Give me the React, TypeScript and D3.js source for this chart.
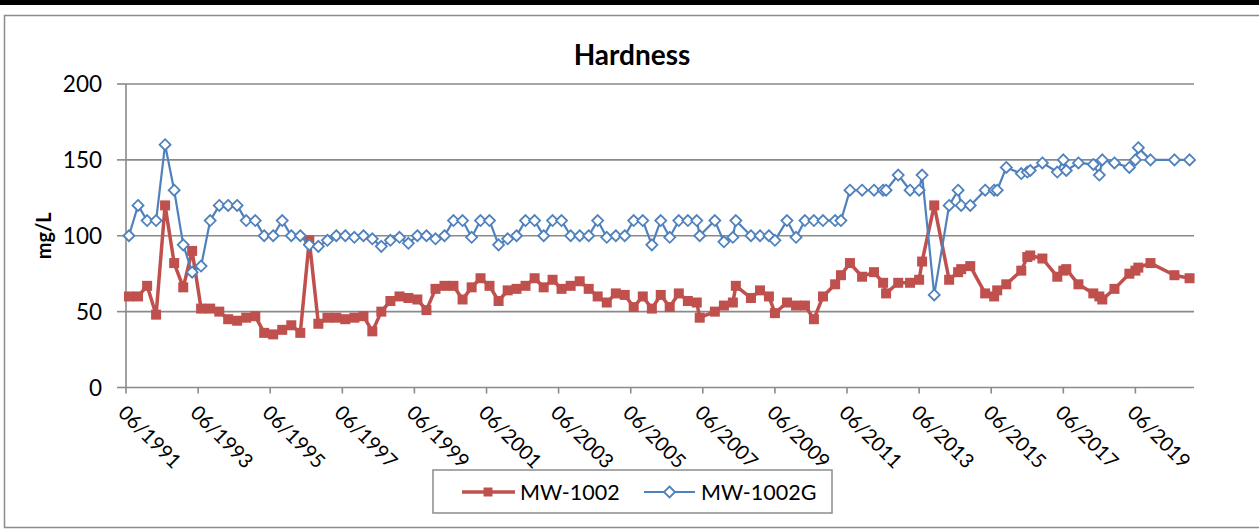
import React from "react";
import * as d3 from "d3";

const W = 1259;
const H = 529;

const title = "Hardness";
const yLabel = "mg/L";
const seriesNames = ["MW-1002", "MW-1002G"];
const yTicks = [0, 50, 100, 150, 200];
const xTickYears = [1991, 1993, 1995, 1997, 1999, 2001, 2003, 2005, 2007, 2009, 2011, 2013, 2015, 2017, 2019];

// MW-1002 (red squares)
const mwDates = [
  "1991-07", "1991-10", "1992-01", "1992-04", "1992-07", "1992-10", "1993-01", "1993-04", "1993-07", "1993-10",
  "1994-01", "1994-04", "1994-07", "1994-10", "1995-01", "1995-04", "1995-07", "1995-10", "1996-01", "1996-04",
  "1996-07", "1996-10", "1997-01", "1997-04", "1997-07", "1997-10", "1998-01", "1998-04", "1998-07", "1998-10",
  "1999-01", "1999-04", "1999-07", "1999-10", "2000-01", "2000-04", "2000-07", "2000-10", "2001-01", "2001-04",
  "2001-07", "2001-10", "2002-01", "2002-04", "2002-07", "2002-10", "2003-01", "2003-04", "2003-07", "2003-10",
  "2004-01", "2004-04", "2004-07", "2004-10", "2005-01", "2005-04", "2005-07", "2005-10", "2006-01", "2006-04",
  "2006-07", "2006-10", "2007-01", "2007-04", "2007-05", "2007-10", "2008-01", "2008-04", "2008-05", "2008-10",
  "2009-01", "2009-04", "2009-06", "2009-10", "2010-01", "2010-04", "2010-07", "2010-10", "2011-02", "2011-04",
  "2011-07", "2011-11", "2012-03", "2012-06", "2012-07", "2012-11", "2013-03", "2013-06", "2013-07", "2013-11",
  "2014-04", "2014-07", "2014-08", "2014-11", "2015-04", "2015-07", "2015-08", "2015-11", "2016-04", "2016-06",
  "2016-07", "2016-11", "2017-04", "2017-06", "2017-07", "2017-11", "2018-04", "2018-06", "2018-07", "2018-11",
  "2019-04", "2019-06", "2019-07", "2019-11", "2020-07", "2020-12",
];
const mwValues = [
  60, 60, 67, 48, 120, 82, 66, 90, 52, 52,
  50, 45, 44, 46, 47, 36, 35, 38, 41, 36,
  97, 42, 46, 46, 45, 46, 47, 37, 50, 57,
  60, 59, 58, 51, 65, 67, 67, 58, 66, 72,
  67, 57, 64, 65, 67, 72, 66, 71, 65, 67,
  70, 65, 60, 56, 62, 61, 53, 60, 52, 61,
  53, 62, 57, 56, 46, 50, 54, 56, 67, 59,
  64, 60, 49, 56, 54, 54, 45, 60, 68, 74,
  82, 73, 76, 69, 62, 69, 69, 71, 83, 120,
  71, 76, 78, 80, 62, 60, 64, 68, 77, 86,
  87, 85, 73, 77, 78, 68, 62, 60, 58, 65,
  75, 77, 79, 82, 74, 72,
];

// MW-1002G (blue diamonds)
const mwgDates = [
  "1991-07", "1991-10", "1992-01", "1992-04", "1992-07", "1992-10", "1993-01", "1993-04", "1993-07", "1993-10",
  "1994-01", "1994-04", "1994-07", "1994-10", "1995-01", "1995-04", "1995-07", "1995-10", "1996-01", "1996-04",
  "1996-07", "1996-10", "1997-01", "1997-04", "1997-07", "1997-10", "1998-01", "1998-04", "1998-07", "1998-10",
  "1999-01", "1999-04", "1999-07", "1999-10", "2000-01", "2000-04", "2000-07", "2000-10", "2001-01", "2001-04",
  "2001-07", "2001-10", "2002-01", "2002-04", "2002-07", "2002-10", "2003-01", "2003-04", "2003-07", "2003-10",
  "2004-01", "2004-04", "2004-07", "2004-10", "2005-01", "2005-04", "2005-07", "2005-10", "2006-01", "2006-04",
  "2006-07", "2006-10", "2007-01", "2007-04", "2007-05", "2007-10", "2008-01", "2008-04", "2008-05", "2008-10",
  "2009-01", "2009-04", "2009-06", "2009-10", "2010-01", "2010-04", "2010-07", "2010-10", "2011-02", "2011-04",
  "2011-07", "2011-11", "2012-03", "2012-06", "2012-07", "2012-11", "2013-03", "2013-06", "2013-07", "2013-11",
  "2014-04", "2014-07", "2014-08", "2014-11", "2015-04", "2015-07", "2015-08", "2015-11", "2016-04", "2016-06",
  "2016-07", "2016-11", "2017-04", "2017-06", "2017-07", "2017-11", "2018-04", "2018-06", "2018-07", "2018-11",
  "2019-04", "2019-06", "2019-07", "2019-11", "2020-07", "2020-12",
];
const mwgValues = [
  100, 120, 110, 110, 160, 130, 94, 76, 80, 110,
  120, 120, 120, 110, 110, 100, 100, 110, 100, 100,
  94, 93, 97, 100, 100, 99, 100, 98, 93, 97,
  99, 95, 100, 100, 98, 100, 110, 110, 99, 110,
  110, 94, 98, 100, 110, 110, 100, 110, 110, 100,
  100, 100, 110, 99, 100, 100, 110, 110, 94, 110,
  99, 110, 110, 110, 100, 110, 96, 99, 110, 100,
  100, 100, 97, 110, 99, 110, 110, 110, 110, 110,
  130, 130, 130, 130, 130, 140, 130, 130, 140, 61,
  120, 130, 120, 120, 130, 130, 130, 145, 141, 142,
  143, 148, 142, 150, 143, 148, 147, 140, 150, 148,
  145, 150, 158, 150, 150, 150,
];

const RED = "#C0504D";
const BLUE = "#4F81BD";
const GRID = "#8A8A8A";
const FONT = "Lato, 'Open Sans', sans-serif";

const parseMonth = d3.timeParse("%Y-%m");

export default function App() {
  const plotL = 126;
  const plotR = 1194;
  const plotT = 84;
  const plotB = 387.5;

  const x = d3
    .scaleTime()
    .domain([new Date(1991, 5, 1), new Date(2021, 0, 15)])
    .range([plotL, plotR]);
  const y = d3.scaleLinear().domain([0, 200]).range([plotB, plotT]);

  const red = mwDates.map((d, i) => ({ date: parseMonth(d) as Date, v: mwValues[i] }));
  const blue = mwgDates.map((d, i) => ({ date: parseMonth(d) as Date, v: mwgValues[i] }));

  const line = d3
    .line<{ date: Date; v: number }>()
    .x((d) => x(d.date))
    .y((d) => y(d.v));

  const fmt = d3.timeFormat("%m/%Y");
  const xTicks = xTickYears.map((yr) => new Date(yr, 5, 1));
  const diamond = (s: number) => `M0,${-s}L${s},0L0,${s}L${-s},0Z`;

  return (
    <div style={{ position: "absolute", left: 0, top: 0, width: W, height: H }}>
      <svg width={W} height={H} style={{ display: "block", fontFamily: FONT }}>
        <rect x={0} y={0} width={W} height={H} fill="#fff" />
        <rect x={0} y={0} width={W} height={5} fill="#000" />
        <rect x={4.5} y={15.5} width={W + 10} height={512} fill="#fff" stroke="#8c8c8c" strokeWidth={1.5} />

        {/* gridlines */}
        {yTicks.map((t) =>
          t === 0 ? null : (
            <line key={"g" + t} x1={plotL} x2={plotR} y1={y(t)} y2={y(t)} stroke={GRID} strokeWidth={1.6} />
          )
        )}
        {/* y axis */}
        <line x1={plotL} x2={plotL} y1={plotT} y2={plotB} stroke={GRID} strokeWidth={1.6} />
        {yTicks.map((t) => (
          <g key={"yt" + t}>
            <line x1={plotL - 9} x2={plotL} y1={y(t)} y2={y(t)} stroke={GRID} strokeWidth={1.6} />
            <text x={plotL - 24} y={y(t)} dy="0.36em" textAnchor="end" fontSize={22.5} fill="#000">
              {t}
            </text>
          </g>
        ))}
        {/* x axis */}
        <line x1={plotL} x2={plotR} y1={plotB} y2={plotB} stroke={GRID} strokeWidth={1.6} />
        {xTicks.map((d, i) => (
          <g key={"xt" + i}>
            <line x1={x(d)} x2={x(d)} y1={plotB} y2={plotB + 6} stroke={GRID} strokeWidth={1.6} />
            <text
              transform={`translate(${x(d) - 9},414) rotate(45)`}
              textAnchor="start"
              fontSize={20}
              fill="#000"
            >
              {fmt(d)}
            </text>
          </g>
        ))}

        {/* series */}
        <path d={line(red) || ""} fill="none" stroke={RED} strokeWidth={3.5} strokeLinejoin="round" />
        {red.map((d, i) => (
          <rect key={"r" + i} x={x(d.date) - 5} y={y(d.v) - 5} width={10} height={10} fill={RED} />
        ))}
        <path d={line(blue) || ""} fill="none" stroke={BLUE} strokeWidth={2.2} strokeLinejoin="round" />
        {blue.map((d, i) => (
          <path
            key={"b" + i}
            transform={`translate(${x(d.date)},${y(d.v)})`}
            d={diamond(5.5)}
            fill="#fff"
            stroke={BLUE}
            strokeWidth={1.8}
          />
        ))}

        {/* title */}
        <text x={632} y={65} textAnchor="middle" fontSize={28} fontWeight="bold" fill="#000">
          {title}
        </text>
        {/* y label */}
        <text
          transform={`translate(51,${(plotT + plotB) / 2}) rotate(-90)`}
          textAnchor="middle"
          fontSize={20}
          fontWeight="bold"
          fill="#000"
        >
          {yLabel}
        </text>

        {/* legend */}
        <rect x={433} y={470} width={399} height={43} fill="#fff" stroke="#8c8c8c" strokeWidth={1.5} />
        <line x1={462} x2={515} y1={492} y2={492} stroke={RED} strokeWidth={3.5} />
        <rect x={483.5} y={487.5} width={9} height={9} fill={RED} />
        <text x={520} y={492} dy="0.36em" fontSize={21.5} fill="#000">
          {seriesNames[0]}
        </text>
        <line x1={644} x2={695} y1={492} y2={492} stroke={BLUE} strokeWidth={2.2} />
        <path transform="translate(669.5,492)" d={diamond(5.5)} fill="#fff" stroke={BLUE} strokeWidth={1.8} />
        <text x={701} y={492} dy="0.36em" fontSize={21.5} fill="#000">
          {seriesNames[1]}
        </text>
      </svg>
    </div>
  );
}
